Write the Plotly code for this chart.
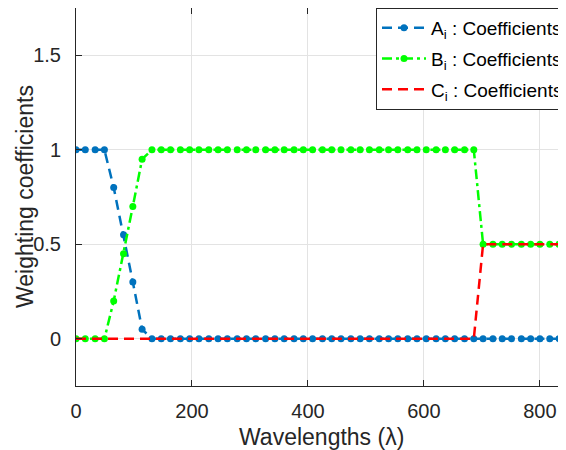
import plotly.graph_objects as go

# Wavelength samples
wavelengths = [0, 16, 33, 49, 65, 82, 98, 114, 131, 147, 163, 180, 196, 212, 229, 245,
               261, 278, 294, 310, 327, 343, 359, 376, 392, 408, 425, 441, 457, 474, 490, 506,
               523, 539, 555, 572, 588, 604, 621, 637, 653, 670, 686, 702, 719, 735, 751, 768,
               784, 800, 817, 833]

coef_A = [1, 1, 1, 1, 0.8, 0.55, 0.3, 0.05] + [0] * 44
coef_B = [0, 0, 0, 0, 0.2, 0.45, 0.7, 0.95] + [1] * 35 + [0.5] * 9
coef_C = [0] * 43 + [0.5] * 9

x_ticks = [0, 200, 400, 600, 800]
y_ticks = [0, 0.5, 1, 1.5]
y_ticklabels = ["0", "0.5", "1", "1.5"]

FONT = "Liberation Sans, Arial, sans-serif"
TXT = "#262626"

fig = go.Figure()
fig.add_trace(go.Scatter(
    x=wavelengths, y=coef_A, mode="lines+markers",
    name="A<sub>i</sub> : Coefficients", legendgroup="a",
    line=dict(color="#0072BD", width=2.5, dash="10px,6px"),
    marker=dict(color="#0072BD", size=7),
))
fig.add_trace(go.Scatter(
    x=wavelengths, y=coef_B, mode="lines+markers",
    name="B<sub>i</sub> : Coefficients", legendgroup="b",
    line=dict(color="#00FF00", width=2.5, dash="10px,4px,3px,4px"),
    marker=dict(color="#00FF00", size=7),
))
fig.add_trace(go.Scatter(
    x=wavelengths, y=coef_C, mode="lines",
    name="C<sub>i</sub> : Coefficients", legendgroup="c",
    line=dict(color="#FF0000", width=2.5, dash="10px,6px"),
))

# the page body has an 8px margin, so the figure is sized to end at the window edge
fig.update_layout(
    width=558, height=442,
    margin=dict(l=68, r=0, t=0, b=64, autoexpand=False),
    paper_bgcolor="white", plot_bgcolor="white",
    font=dict(family=FONT, color=TXT, size=20),
    showlegend=True,
    legend=dict(
        x=(376 - 76) / 490, y=1.0, xanchor="left", yanchor="top",
        bgcolor="white", bordercolor=TXT, borderwidth=1,
        font=dict(size=19, family=FONT, color="#000000"),
        itemwidth=44, traceorder="grouped", tracegroupgap=3,
    ),
    annotations=[
        dict(text="Wavelengths (λ)", xref="paper", yref="paper", x=0.5, y=0,
             yshift=-51, xanchor="center", yanchor="middle", showarrow=False,
             font=dict(size=23, family=FONT, color=TXT)),
        dict(text="Weighting coefficients", xref="paper", yref="paper", x=0, y=0.5,
             xshift=-51, xanchor="center", yanchor="middle", showarrow=False, textangle=-90,
             font=dict(size=23, family=FONT, color=TXT)),
    ],
)
fig.update_xaxes(
    range=[0, 845], tickvals=x_ticks, ticks="inside", ticklen=6, automargin=False,
    tickcolor=TXT, showline=True, linecolor=TXT, linewidth=1, mirror="ticks",
    showgrid=True, gridcolor="#e3e3e3", gridwidth=1, zeroline=False,
    tickfont=dict(size=20), ticklabelstandoff=7,
)
fig.update_yaxes(
    range=[-0.25, 1.75], tickvals=y_ticks, ticktext=y_ticklabels, ticks="inside", ticklen=6,
    automargin=False,
    tickcolor=TXT, showline=True, linecolor=TXT, linewidth=1, mirror="ticks",
    showgrid=True, gridcolor="#e3e3e3", gridwidth=1, zeroline=False,
    tickfont=dict(size=20), ticklabelstandoff=10,
)

fig.write_html("out.html")
